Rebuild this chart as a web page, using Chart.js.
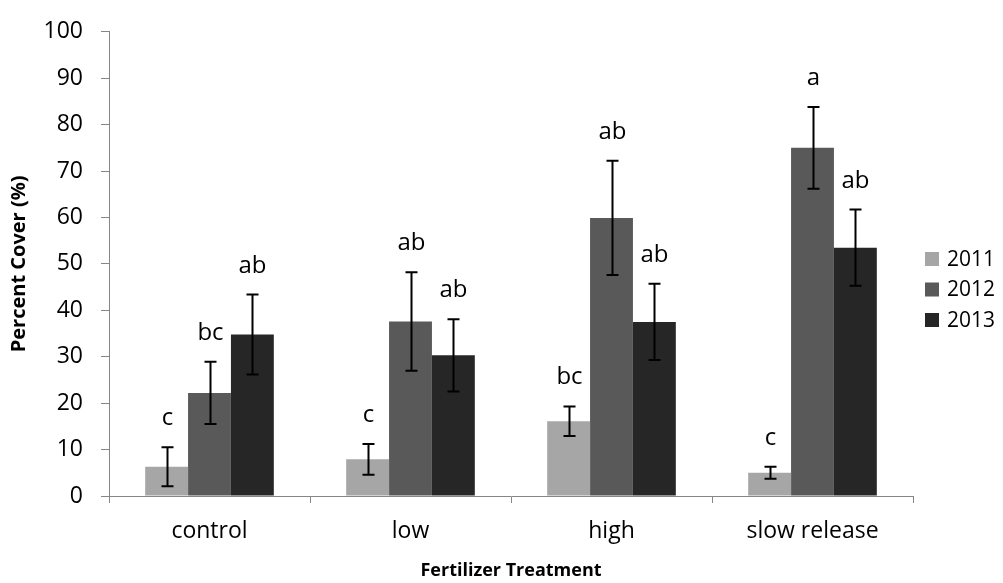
<!DOCTYPE html>
<html>
<head>
<meta charset="utf-8">
<script src="https://cdn.jsdelivr.net/npm/chart.js@4.4.1/dist/chart.umd.min.js"></script>
<style>
html,body{margin:0;padding:0;background:#fff;}
#wrap{width:1003px;height:583px;position:relative;}
</style>
</head>
<body>
<div id="wrap"><canvas id="c" width="1003" height="583"></canvas></div>
<script>
const categories = ["control", "low", "high", "slow release"];
const years = ["2011", "2012", "2013"];
const values2011 = [6.3, 7.9, 16.1, 5.0];
const values2012 = [22.2, 37.6, 59.9, 75.0];
const values2013 = [34.8, 30.3, 37.5, 53.5];
const errors2011 = [4.2, 3.3, 3.2, 1.3];
const errors2012 = [6.7, 10.6, 12.3, 8.8];
const errors2013 = [8.6, 7.8, 8.2, 8.2];
const letters2011 = ["c", "c", "bc", "c"];
const letters2012 = ["bc", "ab", "ab", "a"];
const letters2013 = ["ab", "ab", "ab", "ab"];
const yTicks = [0, 10, 20, 30, 40, 50, 60, 70, 80, 90, 100];

const colors = ["#a6a6a6", "#595959", "#262626"];
const FONT = "'Open Sans', Lato, sans-serif";
const allValues = [values2011, values2012, values2013];
const allErrors = [errors2011, errors2012, errors2013];
const allLetters = [letters2011, letters2012, letters2013];

const errorPlugin = {
  id: 'errbars',
  afterDatasetsDraw(chart) {
    const ctx = chart.ctx;
    const y = chart.scales.y;
    ctx.save();
    allValues.forEach((vals, di) => {
      const meta = chart.getDatasetMeta(di);
      meta.data.forEach((bar, i) => {
        const v = vals[i], e = allErrors[di][i];
        const top = y.getPixelForValue(v + e);
        const bot = y.getPixelForValue(v - e);
        const x = Math.round(bar.x) + 0.5;
        ctx.strokeStyle = '#000';
        ctx.lineWidth = 2;
        ctx.beginPath();
        ctx.moveTo(x, top); ctx.lineTo(x, bot);
        ctx.moveTo(x - 6, top); ctx.lineTo(x + 6, top);
        ctx.moveTo(x - 6, bot); ctx.lineTo(x + 6, bot);
        ctx.stroke();
        ctx.fillStyle = '#000';
        ctx.font = "24px " + FONT;
        ctx.textAlign = 'center';
        ctx.textBaseline = 'alphabetic';
        ctx.fillText(allLetters[di][i], x, top - 22);
      });
    });
    // legend
    const lx = 925;
    const ly0 = 259;
    years.forEach((yr, k) => {
      const cy = ly0 + k * 30.5;
      ctx.fillStyle = colors[k];
      ctx.fillRect(lx, cy - 7, 14, 14);
      ctx.fillStyle = '#000';
      ctx.font = "21px " + FONT;
      ctx.textAlign = 'left';
      ctx.textBaseline = 'middle';
      ctx.fillText(yr, lx + 22, cy + 1);
    });
    ctx.restore();
  }
};

new Chart(document.getElementById('c'), {
  type: 'bar',
  data: {
    labels: categories,
    datasets: years.map((yr, k) => ({
      label: yr,
      data: allValues[k],
      backgroundColor: colors[k],
      borderWidth: 0,
      categoryPercentage: 0.64,
      barPercentage: 1.0
    }))
  },
  options: {
    responsive: false,
    animation: false,
    devicePixelRatio: 1,
    layout: { padding: { top: 22, right: 90, left: 0, bottom: 0 } },
    plugins: { legend: { display: false }, tooltip: { enabled: false } },
    scales: {
      x: {
        grid: { drawOnChartArea: false, drawTicks: true, tickLength: 7, color: '#868686', offset: true },
        border: { display: true, color: '#868686', width: 1 },
        ticks: { color: '#000', font: { family: FONT, size: 23 }, padding: 15 },
        title: { display: true, text: 'Fertilizer Treatment', color: '#000', font: { family: FONT, size: 18, weight: 'bold' }, padding: { top: 4, bottom: 1 } },
        afterFit(scale) { scale.height = 87; }
      },
      y: {
        min: 0, max: 100,
        afterBuildTicks(scale) { scale.ticks = yTicks.map(v => ({ value: v })); },
        grid: { drawOnChartArea: false, drawTicks: true, tickLength: 8, color: '#868686' },
        border: { display: true, color: '#868686', width: 1 },
        ticks: { color: '#000', font: { family: FONT, size: 23 }, padding: 18 },
        title: { display: true, text: 'Percent Cover (%)', color: '#000', font: { family: FONT, size: 20, weight: 'bold' }, padding: { top: 7, bottom: 4 } },
        afterFit(scale) { scale.width = 109; }
      }
    }
  },
  plugins: [errorPlugin]
});
</script>
</body>
</html>
